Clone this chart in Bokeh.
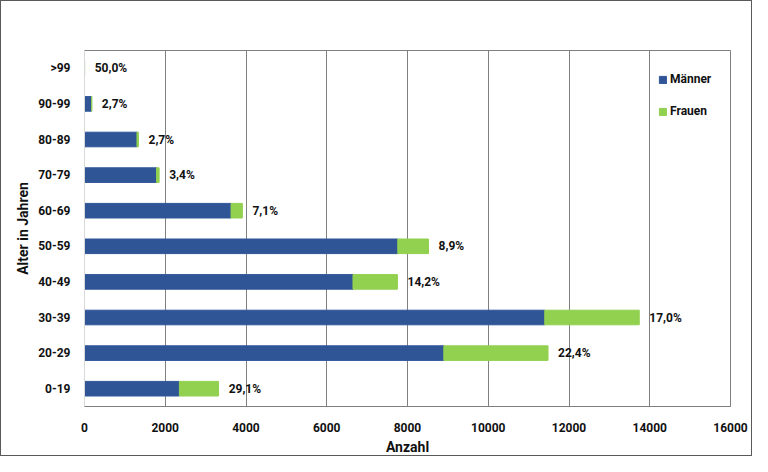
from bokeh.plotting import figure
from bokeh.models import ColumnDataSource, FactorRange, Range1d, FixedTicker
from bokeh.core.properties import value
from bokeh.embed import file_html
from bokeh.resources import INLINE

ages = ["0-19", "20-29", "30-39", "40-49", "50-59", "60-69", "70-79", "80-89", "90-99", ">99"]
maenner = [2350, 8900, 11400, 6650, 7760, 3630, 1785, 1300, 175, 1]
frauen = [970, 2580, 2340, 1100, 760, 280, 63, 36, 5, 1]
pct_labels = ["29,1%", "22,4%", "17,0%", "14,2%", "8,9%", "7,1%", "3,4%", "2,7%", "2,7%", "50,0%"]
x_ticks = [0, 2000, 4000, 6000, 8000, 10000, 12000, 14000, 16000]

BLUE = "#2F5597"
GREEN = "#92D050"
FONT = "Roboto"

totals = [m + f for m, f in zip(maenner, frauen)]
label_offset = 250
src = ColumnDataSource(dict(age=ages, m=maenner, f=frauen,
                            lx=[t + label_offset for t in totals], txt=pct_labels))

p = figure(y_range=FactorRange(factors=ages), x_range=Range1d(x_ticks[0], x_ticks[-1]),
           width=752, height=456, output_backend="svg", toolbar_location=None,
           min_border_left=83, min_border_right=23, min_border_top=49, min_border_bottom=45)

p.hbar_stack(["m", "f"], y="age", height=0.41, color=[BLUE, GREEN], source=src,
             legend_label=["Männer", "Frauen"])

p.text(x="lx", y="age", text="txt", source=src, text_font=value(FONT),
       text_font_style="bold", text_font_size="12px", text_color="#111111",
       text_align="left", text_baseline="middle")

# axes
p.xaxis.ticker = FixedTicker(ticks=x_ticks)
p.xaxis.axis_label = "Anzahl"
p.yaxis.axis_label = "Alter in Jahren"
for ax in (p.xaxis[0], p.yaxis[0]):
    ax.major_tick_line_color = None
    ax.minor_tick_line_color = None
    ax.major_label_text_font = FONT
    ax.major_label_text_font_style = "bold"
    ax.major_label_text_font_size = "12px"
    ax.major_label_text_color = "#111111"
    ax.axis_label_text_font = FONT
    ax.axis_label_text_font_style = "bold"
    ax.axis_label_text_font_size = "14px"
    ax.axis_label_text_color = "#111111"
p.xaxis.major_label_standoff = 10
p.xaxis.axis_label_standoff = 4
p.yaxis.major_label_standoff = 8
p.yaxis.axis_label_standoff = 4
p.xaxis.axis_line_color = "#7f7f7f"
p.yaxis.axis_line_color = "#d9d9d9"

p.xgrid.ticker = FixedTicker(ticks=x_ticks[1:-1])
p.xgrid.grid_line_color = "#808080"
p.xgrid.grid_line_width = 1
p.ygrid.grid_line_color = None

p.outline_line_color = "#7f7f7f"
p.outline_line_width = 1

lg = p.legend[0]
lg.location = (574, 287)
lg.border_line_color = None
lg.background_fill_alpha = 0
lg.padding = 0
lg.margin = 0
lg.spacing = 16
lg.glyph_width = 9
lg.glyph_height = 9
lg.label_height = 16
lg.label_standoff = 3
lg.label_text_font = FONT
lg.label_text_font_style = "bold"
lg.label_text_font_size = "12px"
lg.label_text_color = "#111111"

p.styles = {"border": "1.5px solid #595959", "box-sizing": "border-box"}

open("out.html", "w").write(file_html(p, INLINE))
